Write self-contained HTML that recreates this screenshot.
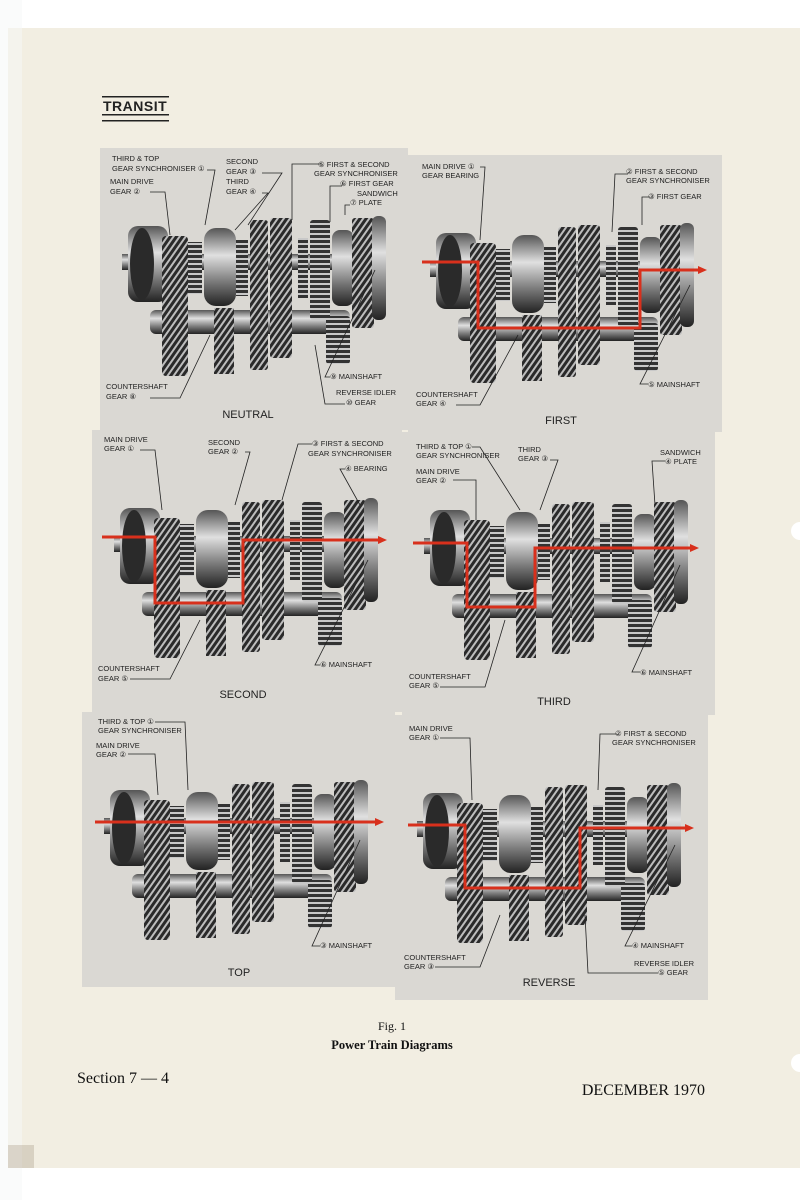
<!DOCTYPE html>
<html><head><meta charset="utf-8"><style>
html,body{margin:0;padding:0;background:#fff}
svg{display:block}
text{font-family:"Liberation Sans",sans-serif}
.l{font-size:7.5px;fill:#222}
.c{font-size:11px;fill:#222;text-anchor:middle}
</style></head><body>
<svg width="800" height="1200" viewBox="0 0 800 1200" xmlns="http://www.w3.org/2000/svg">
<defs>
<pattern id="st" width="5" height="5" patternUnits="userSpaceOnUse" patternTransform="rotate(35)">
<rect width="5" height="5" fill="#2a2a2a"/><rect width="2" height="5" fill="#bdbdbd"/></pattern>
<pattern id="sp" width="6" height="5" patternUnits="userSpaceOnUse">
<rect width="6" height="5" fill="#333"/><rect width="6" height="2" fill="#c8c8c8"/></pattern>
<linearGradient id="cy" x1="0" y1="0" x2="0" y2="1"><stop offset="0" stop-color="#555"/><stop offset=".35" stop-color="#e0e0e0"/><stop offset=".7" stop-color="#777"/><stop offset="1" stop-color="#222"/></linearGradient>
<g id="asm">
<rect x="22" y="106" width="262" height="16" fill="url(#cy)"/>
<rect x="50" y="162" width="200" height="24" rx="6" fill="url(#cy)"/>
<rect x="28" y="78" width="40" height="76" rx="10" fill="url(#cy)"/>
<ellipse cx="42" cy="116" rx="12" ry="36" fill="#2a2a2a"/>
<rect x="62" y="88" width="26" height="140" rx="4" fill="url(#st)"/>
<rect x="88" y="94" width="14" height="52" fill="url(#sp)"/>
<rect x="104" y="80" width="32" height="78" rx="12" fill="url(#cy)"/>
<rect x="136" y="92" width="12" height="56" fill="url(#sp)"/>
<rect x="150" y="72" width="18" height="150" rx="3" fill="url(#st)"/>
<rect x="170" y="70" width="22" height="140" rx="3" fill="url(#st)"/>
<rect x="198" y="90" width="10" height="60" fill="url(#sp)"/>
<rect x="210" y="72" width="20" height="100" rx="3" fill="url(#sp)"/>
<rect x="232" y="82" width="22" height="76" rx="8" fill="url(#cy)"/>
<rect x="226" y="168" width="24" height="48" rx="3" fill="url(#sp)"/>
<rect x="252" y="70" width="22" height="110" rx="3" fill="url(#st)"/>
<rect x="272" y="68" width="14" height="104" rx="6" fill="url(#cy)"/>
<rect x="114" y="160" width="20" height="66" fill="url(#st)"/>
</g>
</defs>
<rect x="8" y="28" width="792" height="1140" fill="#f2eee2"/>
<rect x="0" y="0" width="22" height="1200" fill="#f6f7f8" opacity=".5"/>
<circle cx="800" cy="531" r="9" fill="#fff"/><circle cx="800" cy="1063" r="9" fill="#fff"/>
<text x="103" y="111" style="font-size:14px;font-weight:bold;fill:#222;letter-spacing:.5px">TRANSIT</text>
<rect x="102" y="96" width="67" height="1.5" fill="#222"/>
<rect x="102" y="114" width="67" height="1.5" fill="#222"/>
<rect x="102" y="120" width="67" height="1.5" fill="#222"/>
<g fill="#dad8d3">
<rect x="100" y="148" width="308" height="282"/><rect x="408" y="155" width="314" height="277"/>
<rect x="92" y="430" width="310" height="282"/><rect x="402" y="432" width="313" height="283"/>
<rect x="82" y="712" width="313" height="275"/><rect x="395" y="715" width="313" height="285"/>
</g>
<use href="#asm" transform="translate(100,148)"/>
<use href="#asm" transform="translate(408,155)"/>
<use href="#asm" transform="translate(92,430)"/>
<use href="#asm" transform="translate(402,432)"/>
<use href="#asm" transform="translate(82,712)"/>
<use href="#asm" transform="translate(395,715)"/>
<g fill="none" stroke="#222" stroke-width="0.8">
<polyline points="207,170 215,170 205,225"/><polyline points="150,192 165,192 170,235"/>
<polyline points="262,173 282,173 248,225"/><polyline points="262,193 268,193 235,230"/>
<polyline points="322,164 292,164 292,220"/><polyline points="342,186 330,186 330,222"/>
<polyline points="350,205 345,205 345,215"/><polyline points="330,377 325,377 375,270"/>
<polyline points="345,404 325,404 315,345"/><polyline points="150,398 180,398 210,335"/>
<polyline points="480,167 485,167 480,240"/><polyline points="628,174 615,174 612,232"/>
<polyline points="650,197 642,197 642,225"/><polyline points="648,384 640,384 690,285"/>
<polyline points="456,405 480,405 518,335"/>
<polyline points="140,450 155,450 162,510"/><polyline points="245,452 250,452 235,505"/>
<polyline points="312,444 298,444 282,500"/><polyline points="345,469 340,469 360,505"/>
<polyline points="320,665 315,665 368,560"/><polyline points="130,679 170,679 200,620"/>
<polyline points="472,447 480,447 520,510"/><polyline points="453,480 476,480 476,520"/>
<polyline points="550,460 558,460 540,510"/><polyline points="665,461 652,461 655,505"/>
<polyline points="640,672 632,672 680,565"/><polyline points="440,687 485,687 505,620"/>
<polyline points="155,722 185,722 188,790"/><polyline points="128,754 155,754 158,795"/>
<polyline points="320,946 312,946 360,840"/>
<polyline points="440,738 470,738 472,800"/><polyline points="617,734 600,734 598,790"/>
<polyline points="632,946 625,946 675,845"/><polyline points="658,973 588,973 585,915"/>
<polyline points="435,967 480,967 500,915"/>
</g>
<g fill="none" stroke="#d8301c" stroke-width="3">
<polyline points="422,262 478,262 478,328 640,328 640,270 700,270"/>
<polyline points="102,537 155,537 155,603 243,603 243,540 380,540"/>
<polyline points="413,543 467,543 467,607 535,607 535,548 692,548"/>
<polyline points="95,822 377,822"/>
<polyline points="408,825 465,825 465,888 580,888 580,828 687,828"/>
</g>
<g fill="#d8301c">
<polygon points="707,270 698,266 698,274"/><polygon points="387,540 378,536 378,544"/>
<polygon points="699,548 690,544 690,552"/><polygon points="384,822 375,818 375,826"/>
<polygon points="694,828 685,824 685,832"/>
</g>
<g class="l">
<text x="112" y="161">THIRD &amp; TOP</text><text x="112" y="171">GEAR SYNCHRONISER ①</text>
<text x="110" y="184">MAIN DRIVE</text><text x="110" y="194">GEAR ②</text>
<text x="226" y="164">SECOND</text><text x="226" y="174">GEAR ③</text>
<text x="226" y="184">THIRD</text><text x="226" y="194">GEAR ④</text>
<text x="318" y="167">⑤ FIRST &amp; SECOND</text><text x="314" y="176">GEAR SYNCHRONISER</text>
<text x="340" y="186">⑥ FIRST GEAR</text><text x="357" y="196">SANDWICH</text><text x="350" y="205">⑦ PLATE</text>
<text x="330" y="379">⑨ MAINSHAFT</text><text x="336" y="395">REVERSE IDLER</text><text x="346" y="405">⑩ GEAR</text>
<text x="106" y="389">COUNTERSHAFT</text><text x="106" y="399">GEAR ⑧</text>
<text x="422" y="169">MAIN DRIVE ①</text><text x="422" y="178">GEAR BEARING</text>
<text x="626" y="174">② FIRST &amp; SECOND</text><text x="626" y="183">GEAR SYNCHRONISER</text><text x="648" y="199">③ FIRST GEAR</text>
<text x="648" y="387">⑤ MAINSHAFT</text><text x="416" y="397">COUNTERSHAFT</text><text x="416" y="406">GEAR ④</text>
<text x="104" y="442">MAIN DRIVE</text><text x="104" y="451">GEAR ①</text>
<text x="208" y="445">SECOND</text><text x="208" y="454">GEAR ②</text>
<text x="312" y="446">③ FIRST &amp; SECOND</text><text x="308" y="456">GEAR SYNCHRONISER</text><text x="345" y="471">④ BEARING</text>
<text x="320" y="667">⑥ MAINSHAFT</text><text x="98" y="671">COUNTERSHAFT</text><text x="98" y="681">GEAR ⑤</text>
<text x="416" y="449">THIRD &amp; TOP ①</text><text x="416" y="458">GEAR SYNCHRONISER</text>
<text x="416" y="474">MAIN DRIVE</text><text x="416" y="483">GEAR ②</text>
<text x="518" y="452">THIRD</text><text x="518" y="461">GEAR ③</text>
<text x="660" y="455">SANDWICH</text><text x="665" y="464">④ PLATE</text>
<text x="640" y="675">⑥ MAINSHAFT</text><text x="409" y="679">COUNTERSHAFT</text><text x="409" y="688">GEAR ⑤</text>
<text x="98" y="724">THIRD &amp; TOP ①</text><text x="98" y="733">GEAR SYNCHRONISER</text>
<text x="96" y="748">MAIN DRIVE</text><text x="96" y="757">GEAR ②</text>
<text x="320" y="948">③ MAINSHAFT</text>
<text x="409" y="731">MAIN DRIVE</text><text x="409" y="740">GEAR ①</text>
<text x="615" y="736">② FIRST &amp; SECOND</text><text x="612" y="745">GEAR SYNCHRONISER</text>
<text x="632" y="948">④ MAINSHAFT</text><text x="634" y="966">REVERSE IDLER</text><text x="658" y="975">⑤ GEAR</text>
<text x="404" y="960">COUNTERSHAFT</text><text x="404" y="969">GEAR ③</text>
</g>
<g class="c">
<text x="248" y="418">NEUTRAL</text><text x="561" y="424">FIRST</text>
<text x="243" y="698">SECOND</text><text x="554" y="705">THIRD</text>
<text x="239" y="976">TOP</text><text x="549" y="986">REVERSE</text>
</g>
<text x="392" y="1030" style="font-family:'Liberation Serif',serif;font-size:12px;text-anchor:middle;fill:#111">Fig. 1</text>
<text x="392" y="1049" style="font-family:'Liberation Serif',serif;font-size:12.5px;font-weight:bold;text-anchor:middle;fill:#111">Power Train Diagrams</text>
<text x="77" y="1083" style="font-family:'Liberation Serif',serif;font-size:16px;fill:#111">Section 7 — 4</text>
<text x="705" y="1095" style="font-family:'Liberation Serif',serif;font-size:16px;text-anchor:end;fill:#111">DECEMBER 1970</text>
<rect x="8" y="1145" width="26" height="23" fill="#a89a86" opacity=".35"/>
</svg>
</body></html>
